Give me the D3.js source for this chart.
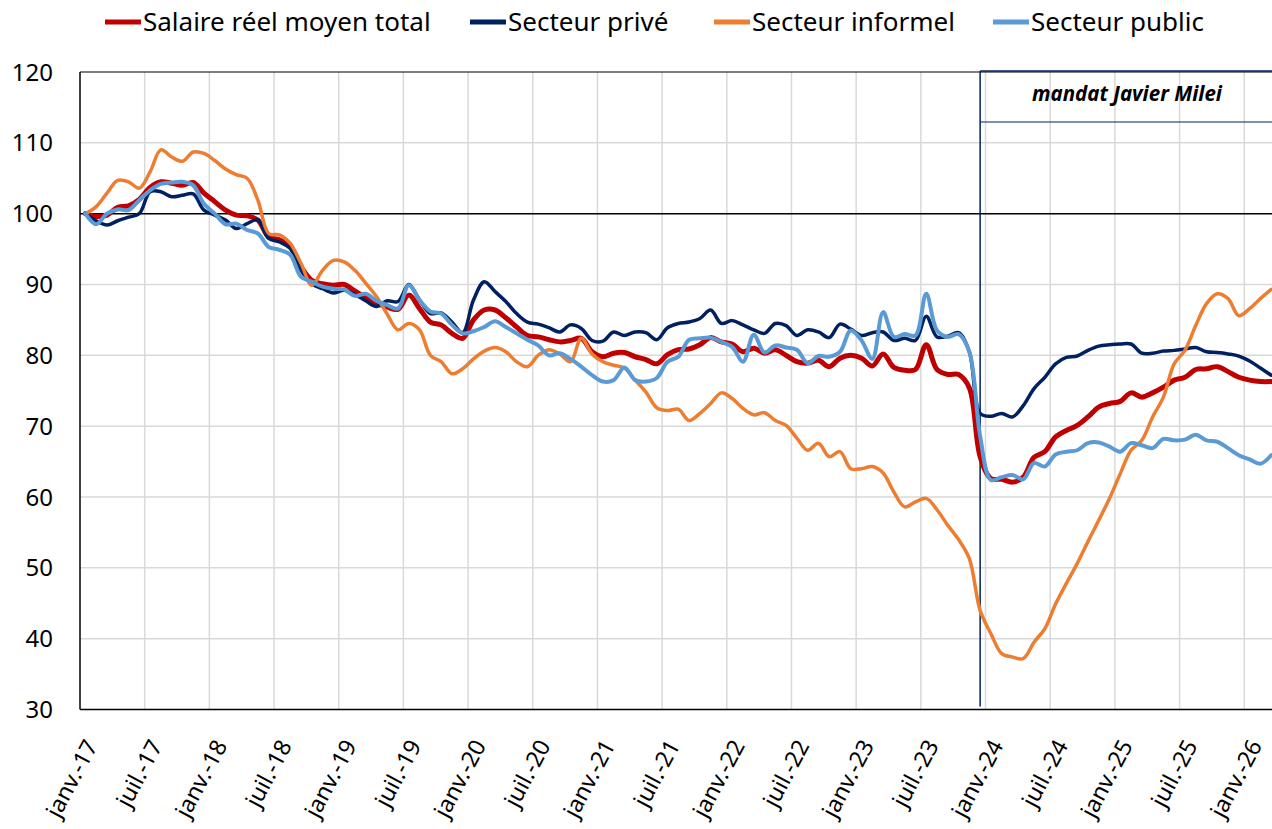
<!DOCTYPE html>
<html>
<head>
<meta charset="utf-8">
<script src="https://cdn.jsdelivr.net/npm/d3@7"></script>
<style>
  body { margin: 0; background: #fff; }
  svg { display: block; }
  text { font-family: "Noto Sans", "Open Sans", sans-serif; }
</style>
</head>
<body>
<svg id="chart" width="1272" height="829"></svg>
<script>
// monthly index, janv. 2017 = 100
const monthNames = ["janv.", "févr.", "mars", "avr.", "mai", "juin", "juil.", "août", "sept.", "oct.", "nov.", "déc."];
const startYear = 2017;
const nMonths = 111; // janv.-17 .. mars-26

const seriesNames = ["Salaire réel moyen total", "Secteur privé", "Secteur informel", "Secteur public"];
const seriesColors = ["#C00000", "#002060", "#ED7D31", "#5B9BD5"];
const seriesWidths = [5, 3.5, 3.5, 4];

const total = [
  100, 99.6, 99.8, 100.9, 101.1, 102.0, 103.7, 104.5, 104.3, 104.0, 104.4, 102.9,
  101.7, 100.5, 99.8, 99.7, 99.1, 96.7, 96.3, 95.3, 92.5, 90.6, 90.1, 89.9,
  90.0, 89.1, 88.2, 87.4, 86.8, 86.5, 88.5, 86.6, 84.7, 84.3, 83.1, 82.4,
  85.0, 86.4, 86.4, 85.3, 84.0, 82.8, 82.6, 82.2, 81.9, 82.1, 82.4, 80.5,
  79.8, 80.3, 80.4, 79.8, 79.4, 78.8, 80.1, 80.8, 80.9, 81.5, 82.5, 81.9,
  81.6, 80.5, 81.0, 80.3, 80.8, 80.0, 79.1, 78.9, 79.3, 78.4, 79.6, 80.0,
  79.6, 78.5, 80.2, 78.3, 77.9, 78.0, 81.5, 78.0, 77.3, 77.3, 75.4, 65.7,
  62.6, 62.5, 62.1, 62.8, 65.6, 66.4, 68.5, 69.4, 70.1, 71.3, 72.7, 73.2,
  73.5, 74.7, 74.1, 74.7, 75.5, 76.5, 76.9, 78.0, 78.1, 78.4, 77.7, 76.9,
  76.5, 76.3, 76.3
];
const prive = [
  100, 99.0, 98.4, 99.0, 99.5, 100.0, 103.1, 103.1, 102.4, 102.6, 102.8, 100.5,
  99.8, 99.1, 97.9, 98.6, 99.1, 96.5, 96.0, 95.1, 92.0, 90.1, 89.4, 88.8,
  89.2, 88.6, 87.7, 86.9, 87.7, 87.6, 90.0, 87.8, 85.9, 86.0, 84.7, 83.2,
  87.8, 90.4, 89.0, 87.6, 85.9, 84.7, 84.4, 83.9, 83.3, 84.3, 83.8, 82.1,
  82.0, 83.3, 82.8, 83.3, 83.2, 82.2, 83.9, 84.5, 84.7, 85.2, 86.4, 84.5,
  84.9, 84.3, 83.6, 83.1, 84.5, 84.2, 82.8, 83.6, 83.3, 82.5, 84.4, 83.7,
  82.8, 83.2, 83.3, 82.1, 82.4, 82.1, 85.5, 82.6, 82.7, 83.2, 80.5, 71.8,
  71.4, 71.8, 71.3, 72.9, 75.3, 76.9, 78.8, 79.7, 79.9, 80.7, 81.3, 81.5,
  81.6, 81.6, 80.3, 80.3, 80.6, 80.7, 80.9, 81.1, 80.5, 80.4, 80.2, 79.9,
  79.2, 78.2, 77.2
];
const informel = [
  100, 101.0, 102.9, 104.7, 104.5, 103.6, 105.9, 109.0, 108.0, 107.4, 108.7, 108.5,
  107.5, 106.3, 105.5, 105.0, 101.9, 97.2, 97.0, 95.8, 93.0, 89.9, 92.0, 93.4,
  93.2, 92.0, 90.2, 88.3, 85.8, 83.6, 84.5, 83.6, 80.0, 79.1, 77.4, 78.1,
  79.5, 80.6, 81.1, 80.5, 79.1, 78.4, 80.0, 80.8, 80.2, 79.1, 82.4, 80.2,
  79.1, 78.6, 78.2, 76.5, 74.8, 72.6, 72.2, 72.4, 70.8, 71.8, 73.2, 74.7,
  73.9, 72.5, 71.6, 71.9, 70.8, 70.1, 68.3, 66.6, 67.6, 65.7, 66.4, 64.0,
  64.0, 64.3, 63.4, 60.7, 58.6, 59.3, 59.8, 58.2, 56.0, 54.0, 51.3, 44.0,
  40.7, 37.9, 37.4, 37.2, 39.5, 41.4, 44.9, 47.8, 50.6, 53.7, 56.7, 59.8,
  63.3, 66.6, 68.0, 71.3, 74.1, 78.8, 80.7, 84.2, 87.3, 88.7, 88.0, 85.6,
  86.6, 88.0, 89.3
];
const publicSector = [
  100, 98.5, 100.0, 100.6, 100.5, 101.9, 103.3, 104.2, 104.4, 104.5, 104.0, 101.4,
  100.0, 98.5, 98.6, 97.7, 97.2, 95.3, 94.9, 94.2, 91.1, 90.4, 89.7, 89.4,
  89.3, 88.4, 88.7, 87.7, 87.1, 86.6, 89.9, 87.8, 86.2, 85.9, 84.3, 83.1,
  83.4, 84.0, 84.8, 84.0, 83.1, 82.2, 81.4, 80.0, 80.3, 79.5, 78.4, 77.2,
  76.3, 76.5, 78.3, 76.5, 76.3, 76.8, 79.1, 79.8, 82.2, 82.4, 82.5, 81.9,
  81.2, 79.1, 82.9, 80.4, 81.4, 81.1, 80.8, 78.9, 79.9, 79.8, 80.5, 83.5,
  82.1, 79.5, 86.1, 82.6, 83.0, 82.8, 88.7, 83.5, 82.6, 83.0, 80.5, 68.6,
  62.4, 62.8, 63.1, 62.5, 64.8, 64.3, 66.0, 66.4, 66.6, 67.6, 67.7, 67.1,
  66.4, 67.6, 67.3, 66.9, 68.2, 68.0, 68.1, 68.8, 68.0, 67.8, 66.9, 65.9,
  65.3, 64.7, 65.9
];
const seriesValues = [total, prive, informel, publicSector];

const yTicks = [30, 40, 50, 60, 70, 80, 90, 100, 110, 120];
const mileiStart = 83; // déc.-23
const mileiLabel = "mandat Javier Milei";

// categories
const categories = [];
for (let i = 0; i < nMonths; i++) {
  const yy = String((startYear + Math.floor(i / 12)) % 100).padStart(2, "0");
  categories.push(monthNames[i % 12] + "-" + yy);
}

const svg = d3.select("#chart");
const plotLeft = 80, plotTop = 72, plotBottom = 709.5;
const catW = 10.78;

const x = d3.scaleLinear()
  .domain([-0.5, nMonths - 0.5])
  .range([plotLeft, plotLeft + nMonths * catW]);
const y = d3.scaleLinear().domain([30, 120]).range([plotBottom, plotTop]);

// gridlines
const grid = svg.append("g");
grid.selectAll(".hg")
  .data(yTicks.filter(d => d !== 100 && d !== 30 && d !== 120))
  .join("line")
  .attr("x1", plotLeft).attr("x2", 1272)
  .attr("y1", d => y(d)).attr("y2", d => y(d))
  .attr("stroke", "#d9d9d9").attr("stroke-width", 1.5);

const vIdx = d3.range(6, nMonths, 6);
grid.selectAll(".vg")
  .data(vIdx)
  .join("line")
  .attr("x1", d => x(d - 0.5)).attr("x2", d => x(d - 0.5))
  .attr("y1", plotTop).attr("y2", plotBottom)
  .attr("stroke", "#d9d9d9").attr("stroke-width", 1.5);

// top border + 100 line
svg.append("line")
  .attr("x1", plotLeft).attr("x2", 1272).attr("y1", y(120)).attr("y2", y(120))
  .attr("stroke", "#000").attr("stroke-width", 1.2);
svg.append("line")
  .attr("x1", plotLeft).attr("x2", 1272).attr("y1", y(100)).attr("y2", y(100))
  .attr("stroke", "#000").attr("stroke-width", 1.5);

// Milei box
const mx = x(mileiStart);
svg.append("line")
  .attr("x1", mx).attr("x2", mx).attr("y1", plotTop - 1).attr("y2", plotBottom - 3)
  .attr("stroke", "#002060").attr("stroke-width", 1.5);
svg.append("line")
  .attr("x1", mx).attr("x2", 1272).attr("y1", plotTop - 1).attr("y2", plotTop - 1)
  .attr("stroke", "#002060").attr("stroke-width", 1.5);
svg.append("line")
  .attr("x1", mx).attr("x2", 1272).attr("y1", 122).attr("y2", 122)
  .attr("stroke", "#002060").attr("stroke-width", 1.2);
svg.append("text")
  .attr("x", 1127).attr("y", 101)
  .attr("text-anchor", "middle")
  .attr("font-size", 20.5).attr("font-weight", "bold").attr("font-style", "italic")
  .attr("fill", "#000")
  .text(mileiLabel);

// lines
const line = d3.line()
  .x((d, i) => x(i))
  .y(d => y(d))
  .curve(d3.curveCatmullRom.alpha(0.5));

svg.append("g").selectAll("path")
  .data(seriesValues)
  .join("path")
  .attr("d", d => line(d))
  .attr("fill", "none")
  .attr("stroke", (d, i) => seriesColors[i])
  .attr("stroke-width", (d, i) => seriesWidths[i])
  .attr("stroke-linejoin", "round")
  .attr("stroke-linecap", "round");

// axes
svg.append("line")
  .attr("x1", plotLeft).attr("x2", plotLeft).attr("y1", plotTop).attr("y2", plotBottom)
  .attr("stroke", "#000").attr("stroke-width", 1.5);
svg.append("line")
  .attr("x1", plotLeft).attr("x2", 1272).attr("y1", plotBottom).attr("y2", plotBottom)
  .attr("stroke", "#000").attr("stroke-width", 1.5);

svg.append("g").selectAll("text")
  .data(yTicks)
  .join("text")
  .attr("x", 53).attr("y", d => y(d))
  .attr("dy", "0.36em")
  .attr("text-anchor", "end")
  .attr("font-size", 24)
  .attr("fill", "#000")
  .text(d => d);

const labelIdx = d3.range(0, nMonths, 6);
svg.append("g").selectAll("text")
  .data(labelIdx)
  .join("text")
  .attr("transform", d => `translate(${x(d) + 6},${plotBottom + 32}) rotate(-62)`)
  .attr("text-anchor", "end")
  .attr("dy", "0.35em")
  .attr("font-size", 23)
  .attr("fill", "#000")
  .text(d => categories[d]);

// legend
const legendX = [105, 470, 714, 993];
const legend = svg.append("g").selectAll("g")
  .data(seriesNames)
  .join("g")
  .attr("transform", (d, i) => `translate(${legendX[i]},22)`);
legend.append("line")
  .attr("x1", 0).attr("x2", 36).attr("y1", 0).attr("y2", 0)
  .attr("stroke", (d, i) => seriesColors[i])
  .attr("stroke-width", 5);
legend.append("text")
  .attr("x", 38).attr("dy", "0.35em")
  .attr("font-size", 26)
  .attr("fill", "#000")
  .text(d => d);
</script>
</body>
</html>
